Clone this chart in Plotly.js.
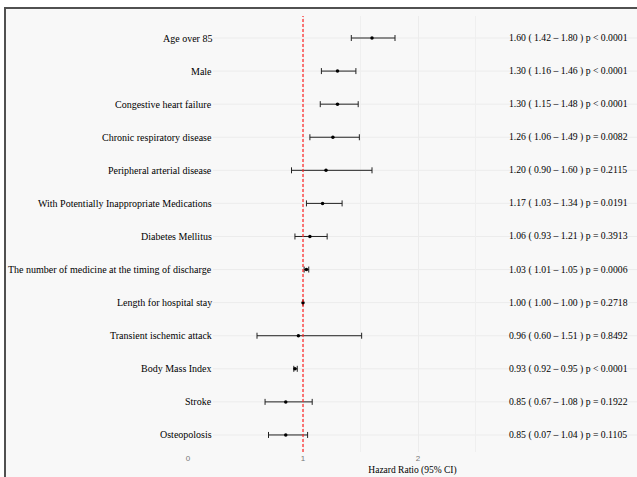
<!DOCTYPE html>
<html>
<head>
<meta charset="utf-8">
<script src="https://cdn.plot.ly/plotly-3.0.1.min.js"></script>
<style>html,body{margin:0;padding:0;background:#fff;}#chart{width:637px;height:477px;}</style>
</head>
<body>
<div id="chart"></div>
<script>
// ---- data ----
const categories = [
  "Age over 85",
  "Male",
  "Congestive heart failure",
  "Chronic respiratory disease",
  "Peripheral arterial disease",
  "With Potentially Inappropriate Medications",
  "Diabetes Mellitus",
  "The number of medicine at the timing of discharge",
  "Length for hospital stay",
  "Transient ischemic attack",
  "Body Mass Index",
  "Stroke",
  "Osteopolosis"
];
const hazardRatio = [1.60, 1.30, 1.30, 1.26, 1.20, 1.17, 1.06, 1.03, 1.00, 0.96, 0.93, 0.85, 0.85];
const ciLower     = [1.42, 1.16, 1.15, 1.06, 0.90, 1.03, 0.93, 1.01, 1.00, 0.60, 0.92, 0.67, 0.70];
const ciUpper     = [1.80, 1.46, 1.48, 1.49, 1.60, 1.34, 1.21, 1.05, 1.00, 1.51, 0.95, 1.08, 1.04];
const summaryText = [
  "1.60 ( 1.42 – 1.80 ) p < 0.0001",
  "1.30 ( 1.16 – 1.46 ) p < 0.0001",
  "1.30 ( 1.15 – 1.48 ) p < 0.0001",
  "1.26 ( 1.06 – 1.49 ) p = 0.0082",
  "1.20 ( 0.90 – 1.60 ) p = 0.2115",
  "1.17 ( 1.03 – 1.34 ) p = 0.0191",
  "1.06 ( 0.93 – 1.21 ) p = 0.3913",
  "1.03 ( 1.01 – 1.05 ) p = 0.0006",
  "1.00 ( 1.00 – 1.00 ) p = 0.2718",
  "0.96 ( 0.60 – 1.51 ) p = 0.8492",
  "0.93 ( 0.92 – 0.95 ) p < 0.0001",
  "0.85 ( 0.67 – 1.08 ) p = 0.1922",
  "0.85 ( 0.07 – 1.04 ) p = 0.1105"
];
const xTickVals = [0, 1, 2];
const xTickText = ["0", "1", "2"];
const refValue = 1;

// ---- layout geometry ----
const W = 637, H = 477;
const M = {l: 188, r: 0, t: 16, b: 25};
const plotW = W - M.l - M.r, plotH = H - M.t - M.b;
const pxX = p => (p - M.l) / plotW;          // pixel -> paper x
const pxY = p => (H - M.b - p) / plotH;      // pixel -> paper y
const unitPx = 115;
const xMax = plotW / unitPx;
const rowPx = 33.08, firstRowPx = 38;
const yTop = (M.t - firstRowPx) / rowPx;
const yBot = (H - M.b - firstRowPx) / rowPx;

const serif = "Liberation Serif, Times New Roman, serif";
const bg = "#f8f8f8";
const frame = "#505050";

const trace = {
  type: "scatter",
  mode: "markers",
  x: hazardRatio,
  y: categories,
  marker: {color: "#000", size: 3.5},
  error_x: {
    type: "data",
    symmetric: false,
    array: ciUpper.map((u, i) => u - hazardRatio[i]),
    arrayminus: ciLower.map((l, i) => hazardRatio[i] - l),
    color: "#222",
    thickness: 1,
    width: 3
  },
  hoverinfo: "skip",
  showlegend: false
};

const annotations = [];
categories.forEach((c, i) => {
  annotations.push({
    xref: "x", yref: "y", x: 0.23, y: c, text: c, showarrow: false,
    xanchor: "right", yanchor: "middle",
    font: {family: serif, size: 10, color: "#000"}
  });
  annotations.push({
    xref: "x", yref: "y", x: 2.775, y: c, text: summaryText[i], showarrow: false,
    xanchor: "left", yanchor: "middle",
    font: {family: serif, size: 9.7, color: "#000"}
  });
});

const shapes = [];
// row grid lines (start right of labels)
categories.forEach(c => {
  shapes.push({type: "line", layer: "below", xref: "x", yref: "y",
    x0: 0.217, x1: xMax, y0: c, y1: c, line: {color: "#ececec", width: 1}});
});
// reference line
shapes.push({type: "line", layer: "above", xref: "x", yref: "paper",
  x0: refValue, x1: refValue, y0: 0, y1: 1,
  line: {color: "#ff2020", width: 1.2, dash: "3px,2px"}});
// outer frame: white strip above / left, dark border lines
shapes.push({type: "rect", layer: "below", xref: "paper", yref: "paper",
  x0: pxX(0), x1: pxX(W), y0: pxY(7), y1: pxY(0), fillcolor: "#fff", line: {width: 0}});
shapes.push({type: "rect", layer: "below", xref: "paper", yref: "paper",
  x0: pxX(0), x1: pxX(4), y0: pxY(H), y1: pxY(0), fillcolor: "#fff", line: {width: 0}});
shapes.push({type: "rect", layer: "below", xref: "paper", yref: "paper",
  x0: pxX(4), x1: pxX(W), y0: pxY(9), y1: pxY(7), fillcolor: frame, line: {width: 0}});
shapes.push({type: "rect", layer: "below", xref: "paper", yref: "paper",
  x0: pxX(4), x1: pxX(6), y0: pxY(H), y1: pxY(7), fillcolor: frame, line: {width: 0}});

const layout = {
  width: W, height: H,
  margin: M,
  paper_bgcolor: bg,
  plot_bgcolor: bg,
  showlegend: false,
  xaxis: {
    range: [0, xMax],
    tickmode: "array",
    tickvals: xTickVals,
    ticktext: xTickText,
    ticks: "",
    showgrid: true,
    gridcolor: "#ececec",
    gridwidth: 1,
    zeroline: false,
    showline: false,
    tickfont: {family: "Liberation Sans, Arial, sans-serif", size: 8, color: "#777"},
    minor: {tickvals: [1.5, 2.5], showgrid: true, gridcolor: "#efefef", ticks: ""},
    title: {text: "Hazard Ratio (95% CI)", standoff: 4,
      font: {family: serif, size: 9.5, color: "#000"}},
    fixedrange: true
  },
  yaxis: {
    type: "category",
    categoryorder: "array",
    categoryarray: categories,
    range: [yBot, yTop],
    showticklabels: false,
    ticks: "",
    showgrid: false,
    zeroline: false,
    showline: false,
    fixedrange: true
  },
  annotations: annotations,
  shapes: shapes
};

Plotly.newPlot("chart", [trace], layout, {displayModeBar: false, staticPlot: true});
</script>
</body>
</html>
